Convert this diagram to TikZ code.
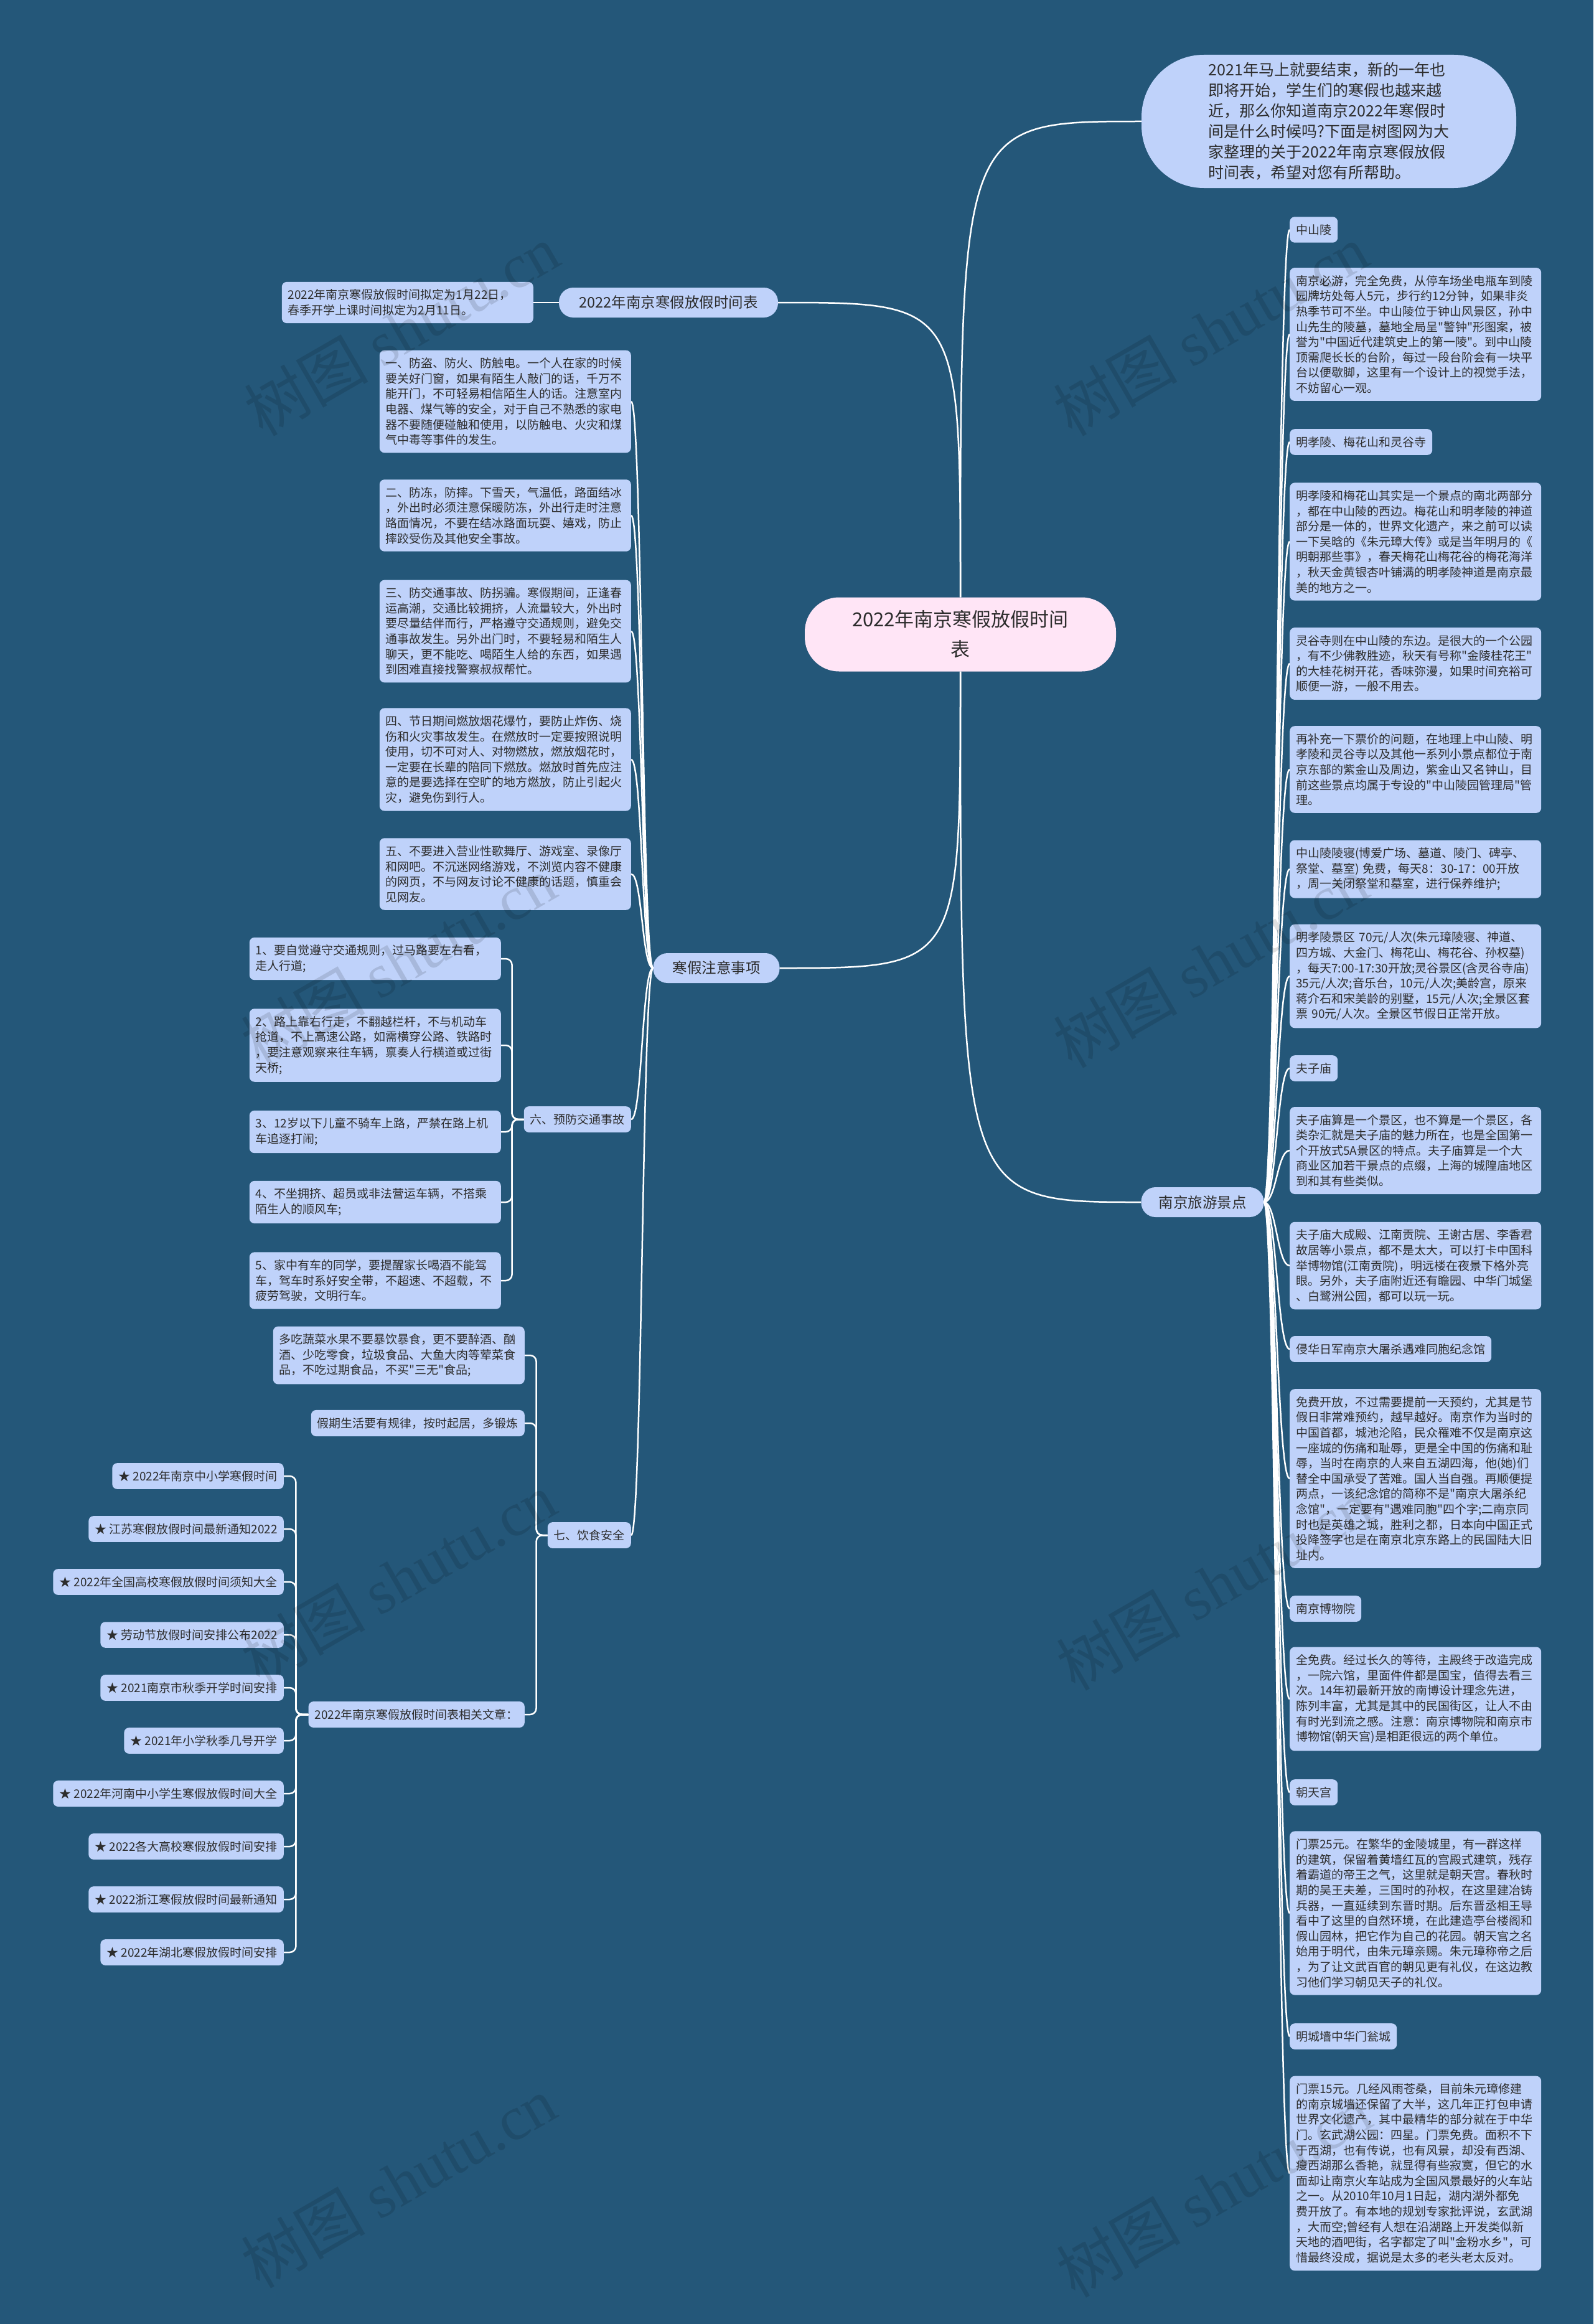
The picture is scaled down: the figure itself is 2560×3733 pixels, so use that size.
\documentclass[tikz,border=0pt]{standalone}
\usepackage{fontspec}
\setmainfont{Noto Sans CJK SC}[Ligatures=TeXOff]
\newfontfamily\wmlat{Liberation Serif}
\definecolor{bgc}{RGB}{36,87,121}
\definecolor{leafc}{RGB}{191,210,250}
\definecolor{rootc}{RGB}{255,229,246}
\definecolor{txt}{RGB}{45,45,45}
\tikzset{
  leaf/.style={fill=leafc, rounded corners=8pt, inner xsep=10pt, inner ysep=12pt, text=txt, align=left, font=\fontsize{19}{24.6}\selectfont},
  wleaf/.style={leaf, text width=384pt},
  branch/.style={fill=leafc, rounded corners=23pt, minimum height=48pt, inner xsep=4pt, text=txt, font=\fontsize{23.5}{28}\selectfont},
  rootbox/.style={fill=rootc, rounded corners=55pt, minimum width=500pt, minimum height=119pt, align=center, text=txt, font=\fontsize{31}{48}\selectfont},
  bubble/.style={fill=leafc, rounded corners=100pt, minimum width=602pt, minimum height=214pt, align=left, text=txt, font=\fontsize{25}{33}\selectfont},
  conn/.style={draw=white, line width=2.5pt},
  bracket/.style={conn, rounded corners=10pt},
  wmark/.style={rotate=30, text=black, opacity=0.12, font=\fontsize{100}{110}\selectfont}
}
\begin{document}
\begin{tikzpicture}[x=1pt,y=-1pt]
\fill[bgc] (0,0) rectangle (2560,3733);
\useasboundingbox (0,0) rectangle (2560,3733);

% root and intro
\node[rootbox] (root) at (1543,1019) {2022年南京寒假放假时间\\表};
\node[bubble] (intro) at (2135,195) {2021年马上就要结束，新的一年也\\即将开始，学生们的寒假也越来越\\近，那么你知道南京2022年寒假时\\间是什么时候吗?下面是树图网为大\\家整理的关于2022年南京寒假放假\\时间表，希望对您有所帮助。};

% branches
\node[branch, minimum width=352pt] (b1) at (1074,486) {2022年南京寒假放假时间表};
\node[branch, minimum width=203pt] (b2) at (1151,1555) {寒假注意事项};
\node[branch, minimum width=197pt] (b3) at (1932,1931) {南京旅游景点};

% branch 1 child
\node[wleaf, anchor=east] (k1) at (857,486) {2022年南京寒假放假时间拟定为1月22日，\\春季开学上课时间拟定为2月11日。};

% branch 2 children
\node[wleaf, anchor=east] (l1) at (1014,645) {一、防盗、防火、防触电。一个人在家的时候\\要关好门窗，如果有陌生人敲门的话，千万不\\能开门，不可轻易相信陌生人的话。注意室内\\电器、煤气等的安全，对于自己不熟悉的家电\\器不要随便碰触和使用，以防触电、火灾和煤\\气中毒等事件的发生。};
\node[wleaf, anchor=east] (l2) at (1014,828) {二、防冻，防摔。下雪天，气温低，路面结冰\\，外出时必须注意保暖防冻，外出行走时注意\\路面情况，不要在结冰路面玩耍、嬉戏，防止\\摔跤受伤及其他安全事故。};
\node[wleaf, anchor=east] (l3) at (1014,1014) {三、防交通事故、防拐骗。寒假期间，正逢春\\运高潮，交通比较拥挤，人流量较大，外出时\\要尽量结伴而行，严格遵守交通规则，避免交\\通事故发生。另外出门时，不要轻易和陌生人\\聊天，更不能吃、喝陌生人给的东西，如果遇\\到困难直接找警察叔叔帮忙。};
\node[wleaf, anchor=east] (l4) at (1014,1220) {四、节日期间燃放烟花爆竹，要防止炸伤、烧\\伤和火灾事故发生。在燃放时一定要按照说明\\使用，切不可对人、对物燃放，燃放烟花时，\\一定要在长辈的陪同下燃放。燃放时首先应注\\意的是要选择在空旷的地方燃放，防止引起火\\灾，避免伤到行人。};
\node[wleaf, anchor=east] (l5) at (1014,1404) {五、不要进入营业性歌舞厅、游戏室、录像厅\\和网吧。不沉迷网络游戏，不浏览内容不健康\\的网页，不与网友讨论不健康的话题，慎重会\\见网友。};
\node[leaf, anchor=east] (l6) at (1014,1798) {六、预防交通事故};
\node[leaf, anchor=east] (l7) at (1014,2466) {七、饮食安全};

% traffic children
\node[wleaf, anchor=east] (t1) at (805,1540) {1、要自觉遵守交通规则，过马路要左右看，\\走人行道;};
\node[wleaf, anchor=east] (t2) at (805,1679) {2、路上靠右行走，不翻越栏杆，不与机动车\\抢道，不上高速公路，如需横穿公路、铁路时\\，要注意观察来往车辆，禀奏人行横道或过街\\天桥;};
\node[wleaf, anchor=east] (t3) at (805,1818) {3、12岁以下儿童不骑车上路，严禁在路上机\\车追逐打闹;};
\node[wleaf, anchor=east] (t4) at (805,1931) {4、不坐拥挤、超员或非法营运车辆，不搭乘\\陌生人的顺风车;};
\node[wleaf, anchor=east] (t5) at (805,2057) {5、家中有车的同学，要提醒家长喝酒不能驾\\车，驾车时系好安全带，不超速、不超载，不\\疲劳驾驶，文明行车。};

% diet children
\node[wleaf, anchor=east] (d1) at (843,2177) {多吃蔬菜水果不要暴饮暴食，更不要醉酒、酗\\酒、少吃零食，垃圾食品、大鱼大肉等荤菜食\\品，不吃过期食品，不买"三无"食品;};
\node[leaf, anchor=east] (d2) at (843,2286) {假期生活要有规律，按时起居，多锻炼};
\node[leaf, anchor=east] (d3) at (843,2754) {2022年南京寒假放假时间表相关文章：};

% related articles
\node[leaf, anchor=east] (s1) at (456,2371) {★ 2022年南京中小学寒假时间};
\node[leaf, anchor=east] (s2) at (456,2456) {★ 江苏寒假放假时间最新通知2022};
\node[leaf, anchor=east] (s3) at (456,2541) {★ 2022年全国高校寒假放假时间须知大全};
\node[leaf, anchor=east] (s4) at (456,2626) {★ 劳动节放假时间安排公布2022};
\node[leaf, anchor=east] (s5) at (456,2711) {★ 2021南京市秋季开学时间安排};
\node[leaf, anchor=east] (s6) at (456,2796) {★ 2021年小学秋季几号开学};
\node[leaf, anchor=east] (s7) at (456,2881) {★ 2022年河南中小学生寒假放假时间大全};
\node[leaf, anchor=east] (s8) at (456,2966) {★ 2022各大高校寒假放假时间安排};
\node[leaf, anchor=east] (s9) at (456,3051) {★ 2022浙江寒假放假时间最新通知};
\node[leaf, anchor=east] (s10) at (456,3136) {★ 2022年湖北寒假放假时间安排};

% branch 3 children
\node[leaf, anchor=west] (r1) at (2072,369) {中山陵};
\node[wleaf, anchor=west] (r2) at (2072,537) {南京必游，完全免费，从停车场坐电瓶车到陵\\园牌坊处每人5元，步行约12分钟，如果非炎\\热季节可不坐。中山陵位于钟山风景区，孙中\\山先生的陵墓，墓地全局呈"警钟"形图案，被\\誉为"中国近代建筑史上的第一陵"。到中山陵\\顶需爬长长的台阶，每过一段台阶会有一块平\\台以便歇脚，这里有一个设计上的视觉手法，\\不妨留心一观。};
\node[leaf, anchor=west] (r3) at (2072,710) {明孝陵、梅花山和灵谷寺};
\node[wleaf, anchor=west] (r4) at (2072,870) {明孝陵和梅花山其实是一个景点的南北两部分\\，都在中山陵的西边。梅花山和明孝陵的神道\\部分是一体的，世界文化遗产，来之前可以读\\一下吴晗的《朱元璋大传》或是当年明月的《\\明朝那些事》，春天梅花山梅花谷的梅花海洋\\，秋天金黄银杏叶铺满的明孝陵神道是南京最\\美的地方之一。};
\node[wleaf, anchor=west] (r5) at (2072,1066) {灵谷寺则在中山陵的东边。是很大的一个公园\\，有不少佛教胜迹，秋天有号称"金陵桂花王"\\的大桂花树开花，香味弥漫，如果时间充裕可\\顺便一游，一般不用去。};
\node[wleaf, anchor=west] (r6) at (2072,1236) {再补充一下票价的问题，在地理上中山陵、明\\孝陵和灵谷寺以及其他一系列小景点都位于南\\京东部的紫金山及周边，紫金山又名钟山，目\\前这些景点均属于专设的"中山陵园管理局"管\\理。};
\node[wleaf, anchor=west] (r7) at (2072,1396) {中山陵陵寝(博爱广场、墓道、陵门、碑亭、\\祭堂、墓室)~免费，每天8：30-17：00开放\\，周一关闭祭堂和墓室，进行保养维护;};
\node[wleaf, anchor=west] (r8) at (2072,1568) {明孝陵景区~70元/人次(朱元璋陵寝、神道、\\四方城、大金门、梅花山、梅花谷、孙权墓)\\，每天7:00-17:30开放;灵谷景区(含灵谷寺庙)\\35元/人次;音乐台，10元/人次;美龄宫，原来\\蒋介石和宋美龄的别墅，15元/人次;全景区套\\票~90元/人次。全景区节假日正常开放。};
\node[leaf, anchor=west] (r9) at (2072,1716) {夫子庙};
\node[wleaf, anchor=west] (r10) at (2072,1848) {夫子庙算是一个景区，也不算是一个景区，各\\类杂汇就是夫子庙的魅力所在，也是全国第一\\个开放式5A景区的特点。夫子庙算是一个大\\商业区加若干景点的点缀，上海的城隍庙地区\\到和其有些类似。};
\node[wleaf, anchor=west] (r11) at (2072,2033) {夫子庙大成殿、江南贡院、王谢古居、李香君\\故居等小景点，都不是太大，可以打卡中国科\\举博物馆(江南贡院)，明远楼在夜景下格外亮\\眼。另外，夫子庙附近还有瞻园、中华门城堡\\、白鹭洲公园，都可以玩一玩。};
\node[leaf, anchor=west] (r12) at (2072,2167) {侵华日军南京大屠杀遇难同胞纪念馆};
\node[wleaf, anchor=west] (r13) at (2072,2375) {免费开放，不过需要提前一天预约，尤其是节\\假日非常难预约，越早越好。南京作为当时的\\中国首都，城池沦陷，民众罹难不仅是南京这\\一座城的伤痛和耻辱，更是全中国的伤痛和耻\\辱，当时在南京的人来自五湖四海，他(她)们\\替全中国承受了苦难。国人当自强。再顺便提\\两点，一该纪念馆的简称不是"南京大屠杀纪\\念馆"，一定要有"遇难同胞"四个字;二南京同\\时也是英雄之城，胜利之都，日本向中国正式\\投降签字也是在南京北京东路上的民国陆大旧\\址内。};
\node[leaf, anchor=west] (r14) at (2072,2584) {南京博物院};
\node[wleaf, anchor=west] (r15) at (2072,2729) {全免费。经过长久的等待，主殿终于改造完成\\，一院六馆，里面件件都是国宝，值得去看三\\次。14年初最新开放的南博设计理念先进，\\陈列丰富，尤其是其中的民国街区，让人不由\\有时光到流之感。注意：南京博物院和南京市\\博物馆(朝天宫)是相距很远的两个单位。};
\node[leaf, anchor=west] (r16) at (2072,2879) {朝天宫};
\node[wleaf, anchor=west] (r17) at (2072,3073) {门票25元。在繁华的金陵城里，有一群这样\\的建筑，保留着黄墙红瓦的宫殿式建筑，残存\\着霸道的帝王之气，这里就是朝天宫。春秋时\\期的吴王夫差，三国时的孙权，在这里建冶铸\\兵器，一直延续到东晋时期。后东晋丞相王导\\看中了这里的自然环境，在此建造亭台楼阁和\\假山园林，把它作为自己的花园。朝天宫之名\\始用于明代，由朱元璋亲赐。朱元璋称帝之后\\，为了让文武百官的朝见更有礼仪，在这边教\\习他们学习朝见天子的礼仪。};
\node[leaf, anchor=west] (r18) at (2072,3271) {明城墙中华门瓮城};
\node[wleaf, anchor=west] (r19) at (2072,3491) {门票15元。几经风雨苍桑，目前朱元璋修建\\的南京城墙还保留了大半，这几年正打包申请\\世界文化遗产，其中最精华的部分就在于中华\\门。玄武湖公园：四星。门票免费。面积不下\\于西湖，也有传说，也有风景，却没有西湖、\\瘦西湖那么香艳，就显得有些寂寞，但它的水\\面却让南京火车站成为全国风景最好的火车站\\之一。从2010年10月1日起，湖内湖外都免\\费开放了。有本地的规划专家批评说，玄武湖\\，大而空;曾经有人想在沿湖路上开发类似新\\天地的酒吧街，名字都定了叫"金粉水乡"，可\\惜最终没成，据说是太多的老头老太反对。};

% connectors from root
\draw[conn] (root.north) .. controls (root.north |- intro.west) .. (intro.west);
\draw[conn] (root.north) .. controls (root.north |- b1.east) .. (b1.east);
\draw[conn] (root.south) .. controls (root.south |- b2.east) .. (b2.east);
\draw[conn] (root.south) .. controls (root.south |- b3.west) .. (b3.west);

% branch 1
\draw[conn] (b1.west) -- (k1.east);

% branch 2
\foreach \c in {l1,l2,l3,l4,l5,l6,l7}
  \draw[conn] (b2.west) .. controls ([xshift=-18pt]b2.west) and ([xshift=18pt]\c.east) .. (\c.east);

% traffic bracket
\foreach \c in {t1,t2,t3,t4,t5}
  \draw[bracket] (l6.west) -- ++(-19,0) |- (\c.east);

% diet bracket
\foreach \c in {d1,d2,d3}
  \draw[bracket] (l7.west) -- ++(-18,0) |- (\c.east);

% related bracket
\foreach \c in {s1,s2,s3,s4,s5,s6,s7,s8,s9,s10}
  \draw[bracket] (d3.west) -- ++(-20,0) |- (\c.east);

% branch 3
\foreach \i in {1,...,19}
  \draw[conn] (b3.east) .. controls ([xshift=20pt]b3.east) and ([xshift=-20pt]r\i.west) .. (r\i.west);

% watermarks
\node[wmark] (w1) at (645,530) {树图 {\wmlat shutu.cn}};
\node[wmark] (w2) at (1945,530) {树图 {\wmlat shutu.cn}};
\node[wmark] (w3) at (640,1545) {树图 {\wmlat shutu.cn}};
\node[wmark] (w4) at (1945,1545) {树图 {\wmlat shutu.cn}};
\node[wmark] (w5) at (640,2535) {树图 {\wmlat shutu.cn}};
\node[wmark] (w6) at (1950,2545) {树图 {\wmlat shutu.cn}};
\node[wmark] (w7) at (640,3505) {树图 {\wmlat shutu.cn}};
\node[wmark] (w8) at (1950,3520) {树图 {\wmlat shutu.cn}};
\end{tikzpicture}
\end{document}
